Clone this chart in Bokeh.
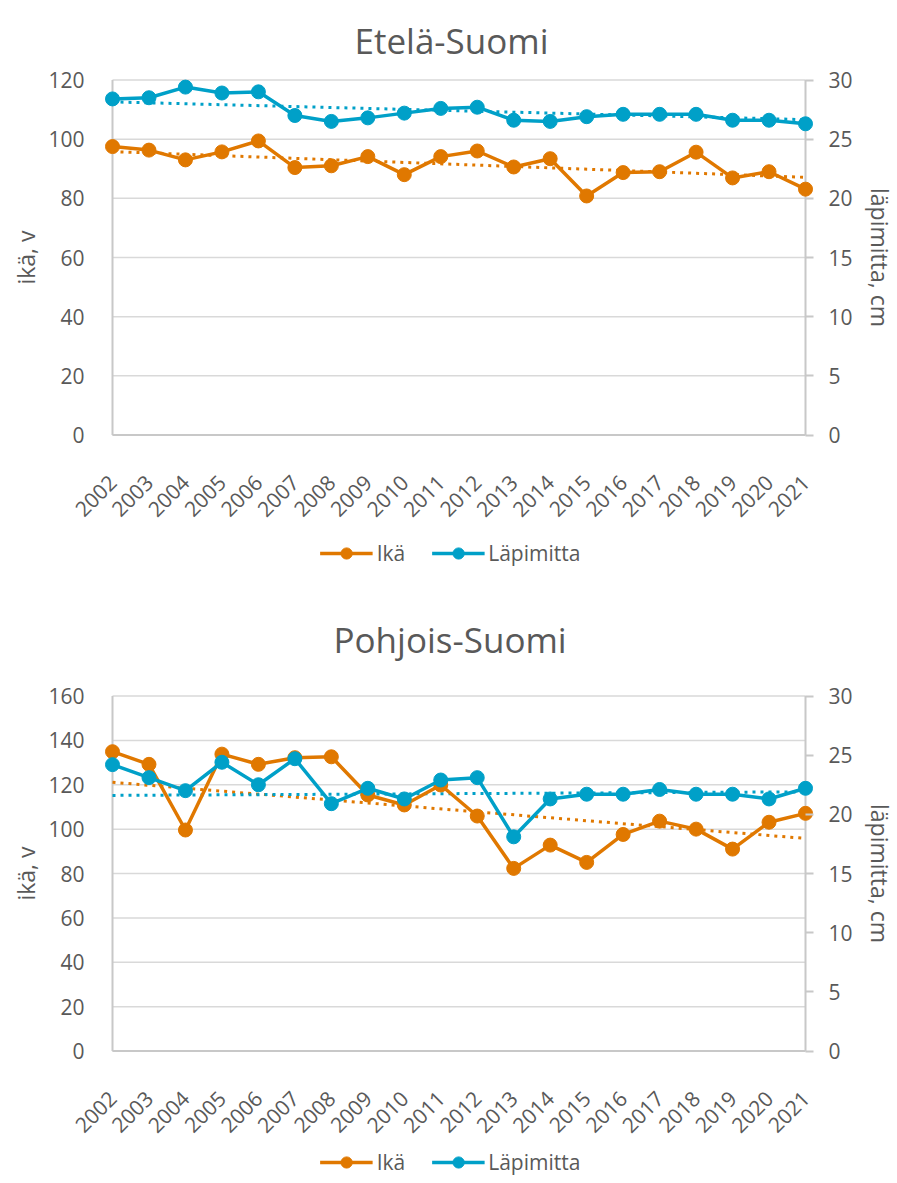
import math
from bokeh.plotting import figure
from bokeh.models import Range1d, LinearAxis, FixedTicker, Legend, LegendItem
from bokeh.layouts import column
from bokeh.embed import file_html
from bokeh.resources import INLINE

# ---------------- data ----------------
years = list(range(2002, 2022))

ete_ika = [97.5, 96.3, 93.0, 95.7, 99.4, 90.4, 91.0, 94.1, 88.0, 94.1,
           96.0, 90.6, 93.4, 80.8, 88.7, 89.0, 95.6, 86.9, 89.0, 83.1]
ete_lapi = [28.4, 28.5, 29.4, 28.9, 29.0, 27.0, 26.5, 26.8, 27.2, 27.6,
            27.7, 26.6, 26.5, 26.9, 27.1, 27.1, 27.1, 26.6, 26.6, 26.3]
poh_ika = [134.9, 129.2, 99.6, 133.8, 129.2, 132.2, 132.6, 115.4, 110.9, 119.9,
           105.9, 82.3, 92.8, 85.0, 97.6, 103.6, 100.0, 91.0, 103.1, 107.1]
poh_lapi = [24.2, 23.1, 22.0, 24.4, 22.5, 24.7, 20.9, 22.2, 21.3, 22.9,
            23.1, 18.1, 21.3, 21.7, 21.7, 22.1, 21.7, 21.7, 21.3, 22.2]

# trendline end values (2002 and 2021)
trend_years = [2002, 2021]
ete_ika_trend = [95.8, 87.1]
ete_lapi_trend = [28.15, 26.65]
poh_ika_trend = [121.1, 95.8]
poh_lapi_trend = [21.6, 21.9]

ete_left_ticks = [0, 20, 40, 60, 80, 100, 120]
poh_left_ticks = [0, 20, 40, 60, 80, 100, 120, 140, 160]
right_ticks = [0, 5, 10, 15, 20, 25, 30]

titles = ["Etelä-Suomi", "Pohjois-Suomi"]
series_names = ["Ikä", "Läpimitta"]
left_label = "ikä, v"
right_label = "läpimitta, cm"

# ---------------- style ----------------
ORANGE = "#E07800"
BLUE = "#00A0C8"
TEXT = "#595959"
GRID = "#D9D9D9"
AXIS = "#C8C8C8"
FONT = "Open Sans"
FIG_W = 881

PLOT_W = 693.0   # px between 2002 and 2021
PLOT_H = 355.0   # px between 0 and top tick
XPAD_PX = 8.0
YPAD_PX = 1.5


def make_chart(title, ika, lapi, ika_trend, lapi_trend, left_ticks,
               top_border, bottom_border, title_offset, title_standoff):
    left_max = left_ticks[-1]
    right_max = right_ticks[-1]
    xpad = XPAD_PX * (years[-1] - years[0]) / PLOT_W
    ly = YPAD_PX * left_max / PLOT_H
    ry = YPAD_PX * right_max / PLOT_H

    p = figure(frame_width=int(PLOT_W + 2 * XPAD_PX),
               frame_height=int(PLOT_H + 2 * YPAD_PX),
               output_backend="svg", toolbar_location=None,
               x_range=Range1d(years[0] - xpad, years[-1] + xpad),
               y_range=Range1d(-ly, left_max + ly),
               min_border_left=104, min_border_right=78,
               min_border_top=top_border, min_border_bottom=bottom_border,
               outline_line_color=None)
    p.extra_y_ranges = {"d": Range1d(-ry, right_max + ry)}

    # title
    p.title.text = title
    p.title.align = "left"
    p.title.offset = title_offset
    p.title.text_font = FONT
    p.title.text_font_size = "35px"
    p.title.text_font_style = "normal"
    p.title.text_color = TEXT
    p.title.standoff = title_standoff

    p.xgrid.visible = False
    p.ygrid.visible = False

    # gridlines and axis frame lines
    n = len(left_ticks)
    p.segment(x0=[years[0]] * n, x1=[years[-1]] * n, y0=left_ticks, y1=left_ticks,
              line_color=GRID, line_width=1.5)
    p.segment(x0=[years[0], years[-1]], x1=[years[0], years[-1]],
              y0=[0, 0], y1=[left_max, left_max], line_color=AXIS, line_width=2)
    p.segment(x0=[years[0]], x1=[years[-1]], y0=[0], y1=[0],
              line_color=AXIS, line_width=2)

    # left axis
    ya = p.yaxis[0]
    ya.ticker = FixedTicker(ticks=left_ticks)
    ya.axis_line_color = None
    ya.major_tick_line_color = None
    ya.minor_tick_line_color = None
    ya.major_label_text_font = FONT
    ya.major_label_text_font_size = "21px"
    ya.major_label_text_color = TEXT
    ya.major_label_standoff = 14
    ya.axis_label = left_label
    ya.axis_label_text_font = FONT
    ya.axis_label_text_font_size = "23px"
    ya.axis_label_text_font_style = "normal"
    ya.axis_label_text_color = TEXT
    ya.axis_label_standoff = 3

    # right axis
    ra = LinearAxis(y_range_name="d", ticker=FixedTicker(ticks=right_ticks))
    ra.axis_line_color = None
    ra.major_tick_in = 8
    ra.major_tick_out = 0
    ra.major_tick_line_color = AXIS
    ra.major_tick_line_width = 2
    ra.minor_tick_line_color = None
    ra.major_label_text_font = FONT
    ra.major_label_text_font_size = "21px"
    ra.major_label_text_color = TEXT
    ra.major_label_standoff = 15
    ra.axis_label = right_label
    ra.axis_label_text_font = FONT
    ra.axis_label_text_font_size = "23px"
    ra.axis_label_text_font_style = "normal"
    ra.axis_label_text_color = TEXT
    ra.axis_label_standoff = 8
    p.add_layout(ra, "right")

    # x axis
    xa = p.xaxis[0]
    xa.ticker = FixedTicker(ticks=years)
    xa.axis_line_color = None
    xa.major_tick_line_color = None
    xa.minor_tick_line_color = None
    xa.major_label_orientation = math.pi / 4
    xa.major_label_text_font = FONT
    xa.major_label_text_font_size = "21px"
    xa.major_label_text_color = TEXT
    xa.major_label_standoff = 36

    # trendlines
    p.line(trend_years, ika_trend, line_color=ORANGE, line_width=3, line_dash="3 5")
    p.line(trend_years, lapi_trend, y_range_name="d", line_color=BLUE,
           line_width=3, line_dash="3 5")

    # series
    p.line(years, ika, line_color=ORANGE, line_width=3.5)
    p.scatter(years, ika, size=14, fill_color=ORANGE, line_color=ORANGE)
    p.line(years, lapi, y_range_name="d", line_color=BLUE, line_width=3.5)
    p.scatter(years, lapi, y_range_name="d", size=14,
              fill_color=BLUE, line_color=BLUE)
    return p


def make_legend(height):
    nan = float("nan")
    lf = figure(width=FIG_W, height=height, output_backend="svg",
                toolbar_location=None, title=None,
                x_axis_type=None, y_axis_type=None,
                x_range=Range1d(0, 1), y_range=Range1d(0, 1),
                min_border=0, min_border_left=0, min_border_right=0,
                min_border_top=0, min_border_bottom=0,
                outline_line_color=None)
    lf.grid.visible = False
    l1 = lf.line(x=[nan, nan], y=[nan, nan], line_color=ORANGE, line_width=3.5)
    s1 = lf.scatter(x=[nan], y=[nan], size=14, fill_color=ORANGE, line_color=ORANGE)
    l2 = lf.line(x=[nan, nan], y=[nan, nan], line_color=BLUE, line_width=3.5)
    s2 = lf.scatter(x=[nan], y=[nan], size=14, fill_color=BLUE, line_color=BLUE)
    legend = Legend(items=[LegendItem(label=series_names[0], renderers=[l1, s1]),
                           LegendItem(label=series_names[1], renderers=[l2, s2])],
                    orientation="horizontal", location="center")
    legend.border_line_color = None
    legend.background_fill_alpha = 0
    legend.label_text_font = FONT
    legend.label_text_font_size = "21px"
    legend.label_text_color = TEXT
    legend.glyph_width = 53
    legend.glyph_height = 28
    legend.label_standoff = 4
    legend.spacing = 26
    legend.padding = 0
    legend.margin = 0
    lf.add_layout(legend, "center")
    return lf


p1 = make_chart(titles[0], ete_ika, ete_lapi, ete_ika_trend, ete_lapi_trend,
                ete_left_ticks, 70, 90, 250, 29)
g1 = make_legend(54)
p2 = make_chart(titles[1], poh_ika, poh_lapi, poh_ika_trend, poh_lapi_trend,
                poh_left_ticks, 114, 90, 229, 64)
g2 = make_legend(40)

layout = column(p1, g1, p2, g2, spacing=0)
open("out.html", "w").write(file_html(layout, INLINE))
